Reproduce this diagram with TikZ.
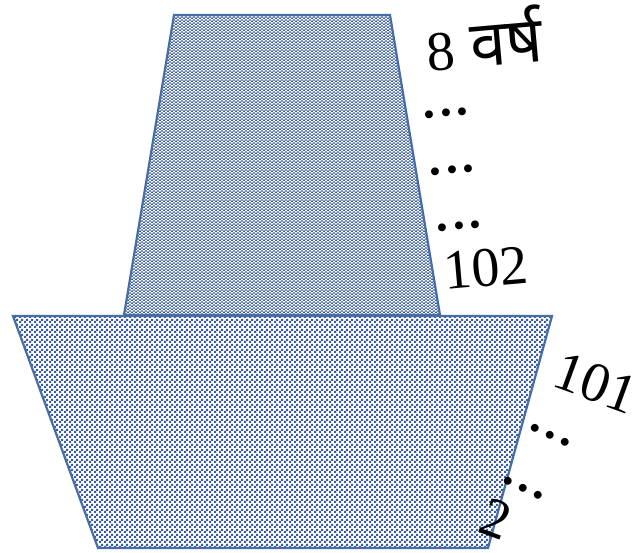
\documentclass[tikz,border=0pt]{standalone}
\usepackage{fontspec}
\setmainfont{Liberation Serif}
\newfontfamily\devfont[Script=Devanagari]{Noto Sans}
\usetikzlibrary{patterns}
\definecolor{edgeblue}{RGB}{70,110,165}
\definecolor{dotblue}{RGB}{55,90,160}
\pgfdeclarepatternformonly{checks}{\pgfqpoint{0pt}{0pt}}{\pgfqpoint{4.6pt}{4.6pt}}{\pgfqpoint{4.6pt}{4.6pt}}{%
  \pgfpathrectangle{\pgfqpoint{0pt}{0pt}}{\pgfqpoint{2.3pt}{2.3pt}}%
  \pgfpathrectangle{\pgfqpoint{2.3pt}{2.3pt}}{\pgfqpoint{2.3pt}{2.3pt}}%
  \pgfusepath{fill}}
\pgfdeclarepatternformonly{checksv}{\pgfqpoint{0pt}{0pt}}{\pgfqpoint{4.4pt}{3.2pt}}{\pgfqpoint{4.4pt}{3.2pt}}{%
  \pgfpathrectangle{\pgfqpoint{0pt}{0pt}}{\pgfqpoint{2.2pt}{1.6pt}}%
  \pgfpathrectangle{\pgfqpoint{2.2pt}{1.6pt}}{\pgfqpoint{2.2pt}{1.6pt}}%
  \pgfusepath{fill}}
\tikzset{
  trap/.style={draw=edgeblue, line width=2.2pt, line join=miter,
    preaction={fill=white}, pattern=checks, pattern color=dotblue},
  trapv/.style={trap, pattern=checksv},
  lbl/.style={inner sep=0pt, font=\fontsize{56}{56}\selectfont},
  dots/.style={inner sep=0pt, font=\fontsize{66}{66}\selectfont}
}
\begin{document}
\begin{tikzpicture}[x=1pt,y=-1pt]
\useasboundingbox (0,0) rectangle (643,552);
\coordinate (ua) at (174,15);
\coordinate (ub) at (390,15);
\coordinate (uc) at (440,315);
\coordinate (ud) at (124,315);
\coordinate (la) at (13,316);
\coordinate (lb) at (552,316);
\coordinate (lc) at (488,548);
\coordinate (ld) at (98,548);
\draw[trapv] (ua) -- (ub) -- (uc) -- (ud) -- cycle;
\draw[trap] (la) -- (lb) -- (lc) -- (ld) -- cycle;
\node[lbl, rotate=5] (t8) at (484,38) {8\hspace{16pt}{\devfont\fontsize{64}{64}\selectfont वर्ष}};
\node[dots, rotate=5] (d1) at (446,113) {...};
\node[dots, rotate=5] (d2) at (452,170) {...};
\node[dots, rotate=5] (d3) at (459,226) {...};
\node[lbl, rotate=5] (t102) at (486,268) {102};
\node[lbl, rotate=-20] (t101) at (596,383) {101};
\node[dots, rotate=-25] (d4) at (550,435) {...};
\node[dots, rotate=-25] (d5) at (523,488) {...};
\node[lbl, rotate=-20] (t2) at (496,519) {2};
\end{tikzpicture}
\end{document}
